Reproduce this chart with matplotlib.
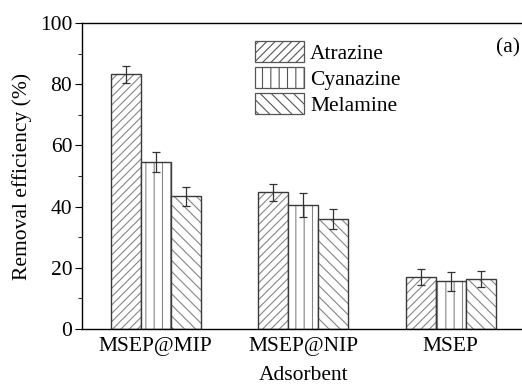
import numpy as np
import matplotlib.pyplot as plt
from matplotlib.ticker import MultipleLocator

plt.rcParams['font.family'] = ['Liberation Serif', 'DejaVu Serif']
plt.rcParams['hatch.linewidth'] = 0.8

# removal efficiency (%) and error for each adsorbent
adsorbents = ['MSEP@MIP', 'MSEP@NIP', 'MSEP']
atrazine = [83.2, 44.6, 17.1]
atrazine_err = [2.8, 2.8, 2.6]
cyanazine = [54.5, 40.4, 15.6]
cyanazine_err = [3.2, 3.9, 3.1]
melamine = [43.4, 35.9, 16.3]
melamine_err = [3.1, 3.2, 2.5]

series = [
    ('Atrazine', atrazine, atrazine_err, '////'),
    ('Cyanazine', cyanazine, cyanazine_err, '||'),
    ('Melamine', melamine, melamine_err, '\\\\\\'),
]

fs = 15.5

fig = plt.figure(figsize=(5.22, 3.87), dpi=100)
ax = fig.add_axes([0.157, 0.150, 0.848, 0.7906])

x = np.arange(1, len(adsorbents) + 1)
w = 0.203
for i, (name, vals, errs, hatch) in enumerate(series):
    pos = x + (i - 1) * w
    ax.bar(pos, vals, w, color='white', edgecolor='#858585', hatch=hatch,
           linewidth=0, label=name)
    ax.bar(pos, vals, w, fill=False, edgecolor='#3a3a3a', linewidth=1.0)
    ax.errorbar(pos, vals, yerr=errs, fmt='none', ecolor='#333333',
                elinewidth=0.9, capsize=3, capthick=0.9)

ax.set_xlim(0.5, 3.5)
ax.set_ylim(0, 100)
ax.set_xticks(x)
ax.set_xticklabels(adsorbents)
ax.yaxis.set_major_locator(MultipleLocator(20))
ax.yaxis.set_minor_locator(MultipleLocator(10))
ax.tick_params(axis='x', length=0, labelsize=fs, pad=6)
ax.tick_params(axis='y', which='major', direction='out', length=5, labelsize=fs, pad=2)
ax.tick_params(axis='y', which='minor', direction='out', length=3)
ax.spines['right'].set_visible(False)
for s in ['left', 'top', 'bottom']:
    ax.spines[s].set_linewidth(1.0)

ax.set_xlabel('Adsorbent', fontsize=fs, labelpad=7)
ax.set_ylabel('Removal efficiency (%)', fontsize=fs, labelpad=6)

ax.text(0.99, 0.92, '(a)', transform=ax.transAxes, ha='right', va='center', fontsize=fs)

# legend uses hatched patches only (first bar of each pair)
handles, labels = ax.get_legend_handles_labels()
leg = ax.legend(handles, labels, loc='upper left', bbox_to_anchor=(0.39, 0.94),
                frameon=False, fontsize=fs, handlelength=2.28, handleheight=1.12,
                labelspacing=0.14, handletextpad=0.3, borderpad=0.0,
                borderaxespad=0.0)
for p in leg.get_patches():
    p.set_edgecolor('#555555')
    p.set_linewidth(0.9)

fig.savefig('out.png', dpi=100)
